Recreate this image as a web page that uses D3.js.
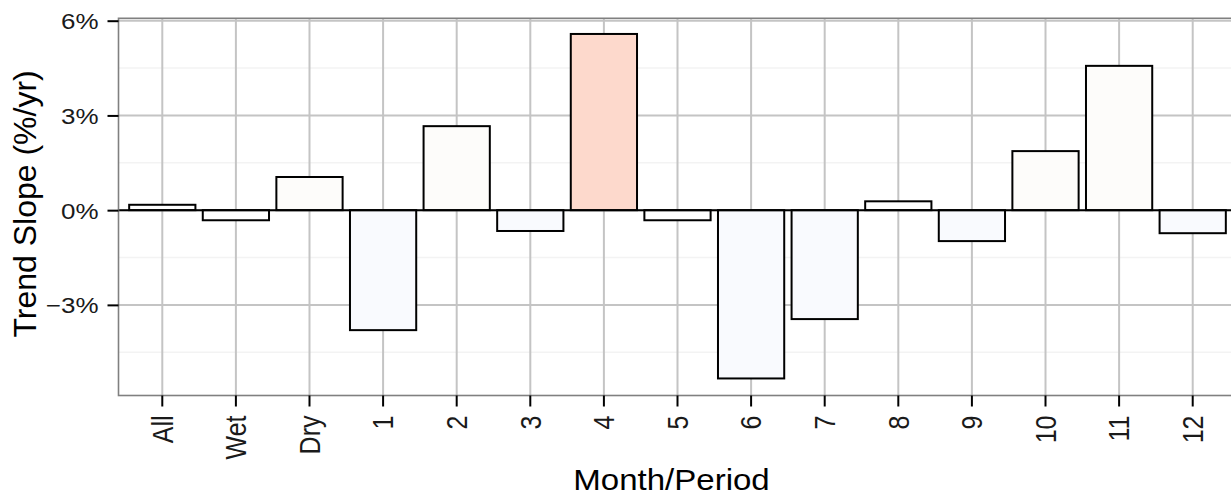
<!DOCTYPE html>
<html><head><meta charset="utf-8">
<script src="https://cdn.jsdelivr.net/npm/d3@7"></script>
<style>body{margin:0;background:#fff;} text{font-family:"Liberation Sans",Arial,sans-serif;}</style>
</head><body>
<svg id="chart" width="1231" height="498"></svg>
<script>
const categories = ["All","Wet","Dry","1","2","3","4","5","6","7","8","9","10","11","12"];
const slopes = [0.17,-0.32,1.05,-3.8,2.66,-0.66,5.58,-0.32,-5.33,-3.45,0.28,-0.98,1.87,4.57,-0.73];
const yTicks = [-3,0,3,6];
const yMinor = [-4.5,-1.5,1.5,4.5];

const svg = d3.select("#chart");
const pL = 118.5, pT = 18.3, pB = 395.5;
const pR = 1236.5;

const x = d3.scaleBand().domain(categories).range([pL, pR]).paddingInner(0.1).paddingOuter(0.145);
const y = d3.scaleLinear().domain([-5.87, 6.076]).range([pB, pT]);
const fill = d3.scaleThreshold().domain([-0.5, 0.5, 5]).range(["#f9fafe", "#ffffff", "#fdfcfa", "#fdd9cc"]);

const g = svg.append("g");
g.selectAll(".minor").data(yMinor).join("line")
  .attr("x1", pL).attr("x2", pR).attr("y1", d => y(d)).attr("y2", d => y(d))
  .attr("stroke", "#f3f3f3").attr("stroke-width", 1.5);
g.selectAll(".major").data(yTicks).join("line")
  .attr("x1", pL).attr("x2", pR).attr("y1", d => y(d)).attr("y2", d => y(d))
  .attr("stroke", "#c4c4c4").attr("stroke-width", 2);
g.selectAll(".vgrid").data(categories).join("line")
  .attr("x1", d => x(d) + x.bandwidth()/2).attr("x2", d => x(d) + x.bandwidth()/2)
  .attr("y1", pT).attr("y2", pB)
  .attr("stroke", "#c4c4c4").attr("stroke-width", 2);

g.selectAll(".bar").data(categories).join("rect")
  .attr("x", d => x(d))
  .attr("width", x.bandwidth())
  .attr("y", (d,i) => y(Math.max(0, slopes[i])))
  .attr("height", (d,i) => Math.abs(y(slopes[i]) - y(0)))
  .attr("fill", (d,i) => fill(slopes[i]))
  .attr("stroke", "#000").attr("stroke-width", 2);

g.append("line").attr("x1", pL).attr("x2", pR).attr("y1", y(0)).attr("y2", y(0))
  .attr("stroke", "#000").attr("stroke-width", 2);

g.append("rect").attr("x", pL).attr("y", pT).attr("width", pR - pL).attr("height", pB - pT)
  .attr("fill", "none").attr("stroke", "#808080").attr("stroke-width", 1.6);

const yAxis = d3.axisLeft(y).tickValues(yTicks).tickSize(11)
  .tickFormat(d => (d < 0 ? "\u2212" + Math.abs(d) : d) + "%");
const ya = svg.append("g").attr("transform", `translate(${pL},0)`).call(yAxis);
ya.select(".domain").remove();
ya.selectAll(".tick line").attr("stroke", "#000").attr("stroke-width", 2);
ya.selectAll(".tick text").attr("font-size", 22).attr("fill", "#1a1a1a")
  .attr("x", 0).attr("dy", "0.36em").attr("text-anchor", "end")
  .attr("transform", "translate(-20,0) scale(1.18,1)");

const xAxis = d3.axisBottom(x).tickSize(11);
const xa = svg.append("g").attr("transform", `translate(0,${pB})`).call(xAxis);
xa.select(".domain").remove();
xa.selectAll(".tick line").attr("stroke", "#000").attr("stroke-width", 2);
xa.selectAll(".tick text").attr("font-size", 25).attr("fill", "#1a1a1a")
  .attr("transform", "translate(0,20) rotate(-90) scale(1,1.15)").attr("text-anchor", "end")
  .attr("x", 0).attr("y", 0).attr("dy", "0.36em");

svg.append("text").attr("transform", `translate(${(pL + pR) / 2 - 6},490) scale(1.12,1)`).attr("text-anchor", "middle")
  .attr("font-size", 29.5).attr("fill", "#000").text("Month/Period");
svg.append("text").attr("transform", `translate(36,${(pT + pB) / 2 - 3}) rotate(-90)`)
  .attr("text-anchor", "middle").attr("font-size", 32).attr("fill", "#000").text("Trend Slope (%/yr)");
</script>
</body></html>
